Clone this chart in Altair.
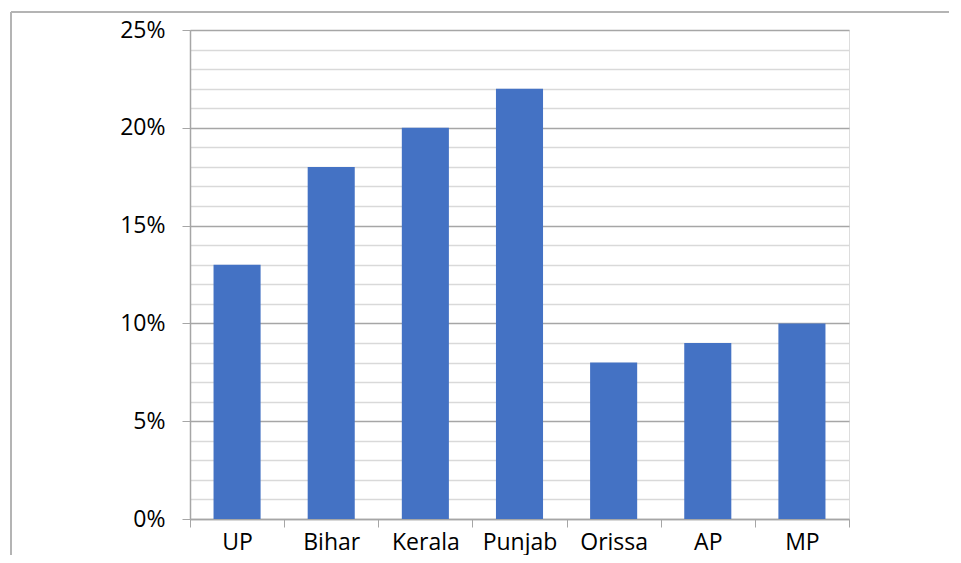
import altair as alt
import pandas as pd

states = ["UP", "Bihar", "Kerala", "Punjab", "Orissa", "AP", "MP"]
shares = [0.13, 0.18, 0.20, 0.22, 0.08, 0.09, 0.10]
y_ticks = [i / 100 for i in range(26)]

df = pd.DataFrame({"state": states, "share": shares})

FONT = "Open Sans"
AXIS_GRAY = "#a6a6a6"

bars = alt.Chart(df).mark_bar(color="#4472C4", width=alt.RelativeBandSize(0.5)).encode(
    x=alt.X(
        "state:N",
        sort=states,
        scale=alt.Scale(paddingInner=0, paddingOuter=0),
        axis=alt.Axis(
            title=None,
            labelAngle=0,
            tickBand="extent",
            tickSize=8,
            tickColor=AXIS_GRAY,
            domainColor=AXIS_GRAY,
            domainWidth=1.5,
            labelFont=FONT,
            labelFontSize=23,
            labelColor="#000000",
            labelPadding=4,
            grid=False,
        ),
    ),
    y=alt.Y(
        "share:Q",
        scale=alt.Scale(domain=[0, 0.25], nice=False),
        axis=alt.Axis(
            title=None,
            values=y_ticks,
            labelExpr="round(datum.value*100) % 5 == 0 ? format(datum.value, '.0%') : ''",
            grid=True,
            gridColor={
                "condition": {"test": "round(datum.value*100) % 5 == 0", "value": "#a6a6a6"},
                "value": "#d9d9d9",
            },
            gridWidth=1.5,
            tickSize=8,
            tickColor=AXIS_GRAY,
            tickOpacity={
                "condition": {"test": "round(datum.value*100) % 5 == 0", "value": 1},
                "value": 0,
            },
            domainColor=AXIS_GRAY,
            domainWidth=1.5,
            labelFont=FONT,
            labelFontSize=23,
            labelColor="#000000",
            labelPadding=17,
        ),
    ),
)

frame = alt.Data(values=[{"k": 1}])
border_top = alt.Chart(frame).mark_rule(color="#b4b4b4", strokeWidth=2).encode(
    x=alt.value(-179), x2=alt.value(800), y=alt.value(-18)
)
border_left = alt.Chart(frame).mark_rule(color="#b4b4b4", strokeWidth=2).encode(
    x=alt.value(-179), y=alt.value(-18), y2=alt.value(600)
)

chart = (
    alt.layer(border_top, border_left, bars)
    .properties(
        width=659,
        height=489,
        autosize="none",
        padding={"left": 182, "top": 22, "right": 100, "bottom": 36},
    )
    .configure_view(stroke=None)
    .configure(background="white")
)

chart.save("out.html", embed_options={"renderer": "svg", "actions": False})
